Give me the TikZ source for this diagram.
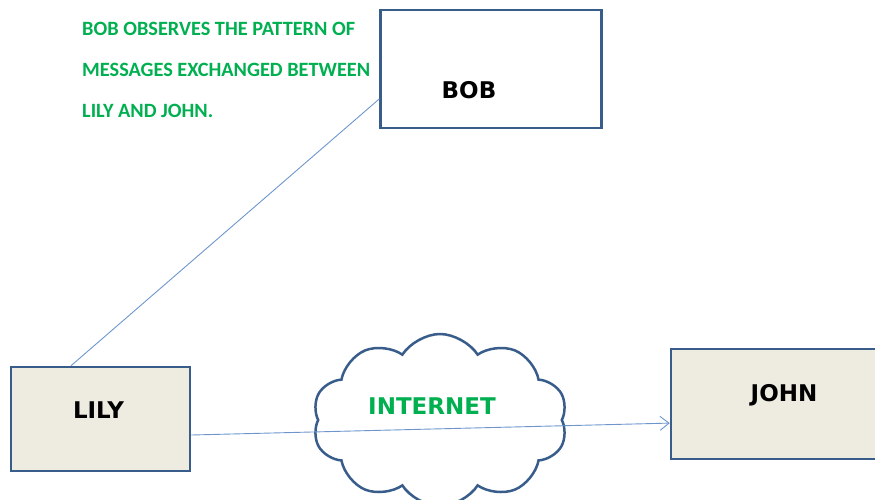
\documentclass[tikz,border=0pt]{standalone}
\usepackage{fontspec}
\newfontfamily\calfont{Carlito}
\newfontfamily\dejafont{DejaVu Sans}
\usetikzlibrary{arrows.meta,shapes.symbols}

\definecolor{edgeblue}{RGB}{56,93,138}
\definecolor{linkblue}{RGB}{110,150,205}
\definecolor{boxfill}{RGB}{238,236,225}
\definecolor{notegreen}{RGB}{0,176,80}

\tikzset{
  party/.style={rectangle, draw=edgeblue, line width=2.5pt, inner sep=0pt},
  link/.style={draw=linkblue, line width=0.9pt},
  tag/.style={font=\dejafont\bfseries\fontsize{23}{26}\selectfont, text=black},
  note/.style={anchor=base west, inner sep=0pt, text=notegreen,
    font=\calfont\bfseries\fontsize{20.3}{22}\selectfont}
}

\begin{document}
\begin{tikzpicture}[x=1pt,y=-1pt]
  \useasboundingbox (0,0) rectangle (875,499);

  % what bob sees
  \node[note] (note1) at (82,35)  {BOB OBSERVES THE PATTERN OF};
  \node[note] (note2) at (82,76)  {MESSAGES EXCHANGED BETWEEN};
  \node[note] (note3) at (82,117) {LILY AND JOHN.};

  % parties
  \node[party, fill=white, minimum width=221pt, minimum height=118pt,
    label={[tag, xshift=-22pt, yshift=-21pt]center:BOB}] (bob) at (491,69) {};
  \node[party, fill=boxfill, minimum width=179pt, minimum height=104pt,
    label={[tag, xshift=-2pt, yshift=9pt]center:LILY}] (lily) at (100.5,419) {};
  \node[party, fill=boxfill, minimum width=214pt, minimum height=110pt,
    label={[tag, xshift=6pt, yshift=9pt]center:JOHN}] (john) at (778,404) {};

  % network
  \node[cloud, draw=edgeblue, line width=2.5pt, fill=white, cloud puffs=10,
    cloud puff arc=115, aspect=1.5, minimum width=255pt, minimum height=172pt,
    label={[tag, text=notegreen, xshift=-8pt, yshift=14pt]center:INTERNET}] (net) at (440,420) {};

  % links
  \draw[link] (lily.119) -- (bob.195);
  \draw[link, -{Straight Barb[length=9pt, width=14pt]}] (lily.-10.8) -- (john.190.6);

\end{tikzpicture}
\end{document}
